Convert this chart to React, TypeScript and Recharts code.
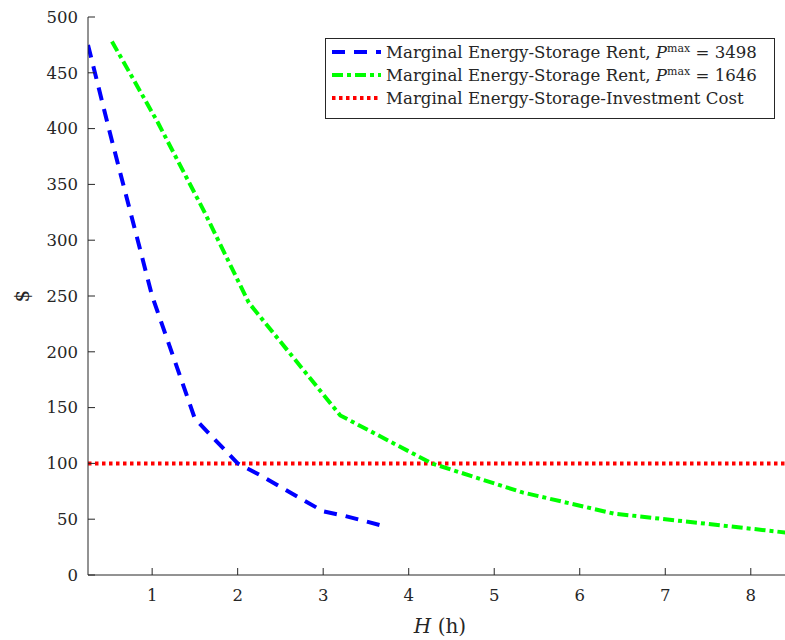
import { LineChart, Line, XAxis, YAxis, Legend } from "recharts";

// H (hours) and marginal rent values
const hBlue = [0.25, 0.5, 0.75, 1, 1.25, 1.5, 1.75, 2, 2.25, 2.5, 2.75, 3, 3.25, 3.5, 3.75];
const rentBlue = [475, 398, 324, 250, 195, 140, 120, 100, 90, 79, 68, 57, 53, 48, 43];

const hGreen = [0.53, 1.07, 1.6, 2.13, 2.67, 3.2, 4.27, 5.33, 6.4, 7.47, 8.53];
const rentGreen = [478, 405, 327, 244, 193, 143, 100, 74, 55, 46, 37];

const hCost = [0.25, 8.4];
const investCost = [100, 100];

const xTicks = [1, 2, 3, 4, 5, 6, 7, 8];
const yTicks = [0, 50, 100, 150, 200, 250, 300, 350, 400, 450, 500];

const blueData = hBlue.map((h, i) => ({ h, v: rentBlue[i] }));
const greenData = hGreen.map((h, i) => ({ h, v: rentGreen[i] }));
const costData = hCost.map((h, i) => ({ h, v: investCost[i] }));

const FONT = "'DejaVu Serif', 'Liberation Serif', serif";
const AXIS = "#262626";

const BLUE_DASH = "13 9";
const GREEN_DASH = "11 4 4 4";
const RED_DASH = "3.5 3.5";

function Pmax({ value }: { value: string }) {
  return (
    <>
      Marginal Energy-Storage Rent, <tspan fontStyle="italic">P</tspan>
      <tspan fontSize={11} dy={-6}>max</tspan>
      <tspan dy={6}> = {value}</tspan>
    </>
  );
}

function LegendBox() {
  const rows = [
    { color: "#0000ff", dash: BLUE_DASH, label: <Pmax value="3498" /> },
    { color: "#00ff00", dash: GREEN_DASH, label: <Pmax value="1646" /> },
    { color: "#ff0000", dash: RED_DASH, label: <>Marginal Energy-Storage-Investment Cost</> },
  ];
  return (
    <svg width={450} height={81} style={{ display: "block" }}>
      <rect x={0.5} y={0.5} width={449} height={80} fill="#fff" stroke={AXIS} strokeWidth={1} />
      {rows.map((r, i) => (
        <g key={i}>
          <line
            x1={7}
            x2={56}
            y1={14 + i * 23}
            y2={14 + i * 23}
            stroke={r.color}
            strokeWidth={4}
            strokeDasharray={r.dash}
          />
          <text x={61} y={20 + i * 23} fontFamily={FONT} fontSize={16.6} fill={AXIS}>
            {r.label}
          </text>
        </g>
      ))}
    </svg>
  );
}

export default function App() {
  return (
    <div style={{ position: "absolute", left: 0, top: 0, width: 785, height: 640, background: "#fff" }}>
      <LineChart
        width={785}
        height={640}
        margin={{ top: 17, right: 0, bottom: 0, left: 0 }}
      >
        <XAxis
          dataKey="h"
          type="number"
          domain={[0.25, 8.4]}
          ticks={xTicks}
          allowDataOverflow
          height={65}
          tickSize={-7}
          tickMargin={21}
          stroke={AXIS}
          tick={{ fill: AXIS, fontSize: 16.5, fontFamily: FONT }}
          label={{
            content: () => (
              <text x={440} y={633} textAnchor="middle" fontFamily={FONT} fontSize={20} fill={AXIS}>
                <tspan fontStyle="italic">H</tspan> (h)
              </text>
            ),
          }}
        />
        <YAxis
          dataKey="v"
          type="number"
          domain={[0, 500]}
          ticks={yTicks}
          allowDataOverflow
          width={88}
          tickSize={-7}
          tickMargin={17}
          stroke={AXIS}
          tick={{ fill: AXIS, fontSize: 16.5, fontFamily: FONT }}
          label={{
            content: () => (
              <text
                x={22}
                y={296}
                transform="rotate(-90 22 296)"
                textAnchor="middle"
                dominantBaseline="central"
                fontFamily={FONT}
                fontSize={20}
                fill={AXIS}
              >
                $
              </text>
            ),
          }}
        />
        <Legend
          layout="horizontal"
          verticalAlign="middle"
          wrapperStyle={{ position: "absolute", top: 38, left: 325, width: 450, height: 81 }}
          content={() => <LegendBox />}
        />
        <Line
          data={costData}
          dataKey="v"
          stroke="#ff0000"
          strokeWidth={4}
          strokeDasharray={RED_DASH}
          dot={false}
          activeDot={false}
          isAnimationActive={false}
        />
        <Line
          data={blueData}
          dataKey="v"
          stroke="#0000ff"
          strokeWidth={4}
          strokeDasharray={BLUE_DASH}
          dot={false}
          activeDot={false}
          isAnimationActive={false}
        />
        <Line
          data={greenData}
          dataKey="v"
          stroke="#00ff00"
          strokeWidth={4}
          strokeDasharray={GREEN_DASH}
          dot={false}
          activeDot={false}
          isAnimationActive={false}
        />
      </LineChart>
    </div>
  );
}
